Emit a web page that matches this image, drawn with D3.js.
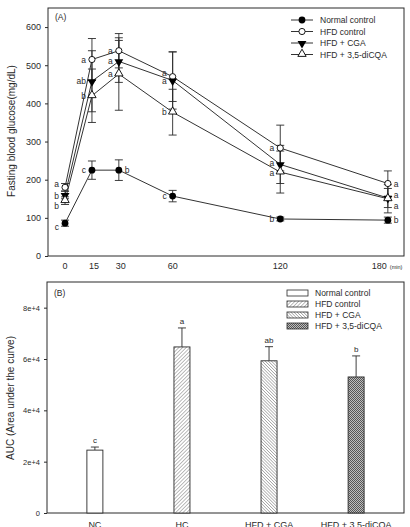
<!DOCTYPE html>
<html>
<head>
<meta charset="utf-8">
<script src="https://cdn.jsdelivr.net/npm/d3@7"></script>
<style>
  body { margin: 0; background: #fff; }
  svg { display: block; font-family: "Liberation Sans", Arial, sans-serif; }
</style>
</head>
<body>
<svg id="chart" width="410" height="527"></svg>
<script>
// ---- data: panel A (OGTT) ----
var times = [0, 15, 30, 60, 120, 180];
var seriesNames = ["Normal control", "HFD control", "HFD + CGA", "HFD + 3,5-diCQA"];
var ncGlucose   = [86, 225, 225, 157, 97, 94];
var ncErr       = [8, 24, 27, 15, 5, 8];
var hfdGlucose  = [180, 515, 538, 470, 283, 190];
var hfdErr      = [10, 55, 45, 65, 60, 33];
var cgaGlucose  = [160, 458, 510, 460, 240, 152];
var cgaErr      = [10, 80, 55, 75, 50, 25];
var dicqaGlucose = [145, 420, 477, 377, 220, 150];
var dicqaErr    = [10, 70, 95, 60, 55, 37];
var ncLetters    = ["c", "c", "b", "c", "b", "b"];
var hfdLetters   = ["a", "a", "a", "a", "a", "a"];
var cgaLetters   = ["b", "ab", "a", "a", "a", "a"];
var dicqaLetters = ["b", "b", "a", "b", "a", "a"];
var yTicksA = [0, 100, 200, 300, 400, 500, 600];

// ---- data: panel B (AUC) ----
var groups = ["NC", "HC", "HFD + CGA", "HFD + 3,5-diCQA"];
var aucValues = [24500, 64700, 59300, 53000];
var aucErr = [1200, 7400, 5500, 8200];
var aucLetters = ["c", "a", "ab", "b"];
var yTicksB = [0, 20000, 40000, 60000, 80000];
var yTickLabelsB = ["0", "2e+4", "4e+4", "6e+4", "8e+4"];

var svg = d3.select("#chart");
var ink = "#2a2a2a";

// patterns for the bars
var defs = svg.append("defs");
function hatch(id, angle, gap, sw, bg) {
  var p = defs.append("pattern").attr("id", id)
    .attr("patternUnits", "userSpaceOnUse").attr("width", gap).attr("height", gap)
    .attr("patternTransform", "rotate(" + angle + ")");
  p.append("rect").attr("width", gap).attr("height", gap).attr("fill", bg);
  p.append("line").attr("x1", 0).attr("y1", 0).attr("x2", 0).attr("y2", gap)
    .attr("stroke", "#555").attr("stroke-width", sw);
  return p;
}
hatch("hatchHFD", 45, 2.6, 0.8, "#fff");
hatch("hatchCGA", -45, 2.2, 0.8, "#fff");
var cross = defs.append("pattern").attr("id", "hatchDI")
  .attr("patternUnits", "userSpaceOnUse").attr("width", 2).attr("height", 2);
cross.append("rect").attr("width", 2).attr("height", 2).attr("fill", "#bdbdbd");
cross.append("rect").attr("width", 1).attr("height", 1).attr("fill", "#555");
cross.append("rect").attr("x", 1).attr("y", 1).attr("width", 1).attr("height", 1).attr("fill", "#555");
var fills = ["#fff", "url(#hatchHFD)", "url(#hatchCGA)", "url(#hatchDI)"];

// ================= Panel A =================
var a = { left: 48, right: 404, top: 8, bottom: 256 };
var xA = d3.scaleLinear().domain([-9.5, 189]).range([a.left, a.right]);
var yA = d3.scaleLinear().domain([0, 650]).range([a.bottom, a.top]);

svg.append("rect").attr("x", a.left).attr("y", a.top)
  .attr("width", a.right - a.left).attr("height", a.bottom - a.top)
  .attr("fill", "none").attr("stroke", ink).attr("stroke-width", 1);

var gyA = svg.append("g").attr("transform", "translate(" + a.left + ",0)")
  .call(d3.axisLeft(yA).tickValues(yTicksA).tickSize(3).tickPadding(4));
gyA.select(".domain").remove();
gyA.selectAll("line").attr("stroke", ink);
gyA.selectAll("text").attr("font-size", 9).attr("fill", ink);

// time labels (180 sits left of its tick so "(min)" fits)
svg.append("g").selectAll("text").data(times).enter().append("text")
  .attr("x", function(d) { return d === 180 ? xA(d) - 1 : xA(d) + (d === 15 || d === 30 ? 2 : 0); })
  .attr("y", 269)
  .attr("text-anchor", function(d) { return d === 180 ? "end" : "middle"; })
  .attr("font-size", 9).attr("fill", ink)
  .text(function(d) { return d; });
svg.append("text").attr("x", xA(180) + 2).attr("y", 269).attr("font-size", 5.5)
  .attr("fill", ink).text("(min)");

svg.append("text").attr("x", 55).attr("y", 20).attr("font-size", 8.5)
  .attr("fill", ink).text("(A)");

svg.append("text").attr("transform", "translate(15,131) rotate(-90)")
  .attr("text-anchor", "middle").attr("font-size", 10).attr("fill", ink)
  .text("Fasting blood glucose(mg/dL)");

var series = [
  { vals: ncGlucose, err: ncErr, letters: ncLetters, side: [-1, -1, 1, -1, -1, 1], dy: [4, 0, 0, 0, 0, 0] },
  { vals: hfdGlucose, err: hfdErr, letters: hfdLetters, side: [-1, -1, -1, -1, -1, 1], dy: [-3, 0, 0, -4, 0, 0] },
  { vals: cgaGlucose, err: cgaErr, letters: cgaLetters, side: [-1, -1, -1, -1, -1, 1], dy: [1.5, 0, 0, 1, -1, -3] },
  { vals: dicqaGlucose, err: dicqaErr, letters: dicqaLetters, side: [-1, -1, -1, -1, -1, 1], dy: [5, 0, 0, 0, 1, 7] }
];

var line = d3.line().x(function(d, i) { return xA(times[i]); }).y(function(d) { return yA(d); });

// error bars
series.forEach(function(s) {
  var g = svg.append("g").attr("stroke", ink).attr("stroke-width", 0.9);
  s.vals.forEach(function(v, i) {
    var x = xA(times[i]);
    g.append("line").attr("x1", x).attr("x2", x).attr("y1", yA(v - s.err[i])).attr("y2", yA(v + s.err[i]));
    g.append("line").attr("x1", x - 4).attr("x2", x + 4).attr("y1", yA(v + s.err[i])).attr("y2", yA(v + s.err[i]));
    g.append("line").attr("x1", x - 4).attr("x2", x + 4).attr("y1", yA(v - s.err[i])).attr("y2", yA(v - s.err[i]));
  });
});

// lines
series.forEach(function(s) {
  svg.append("path").datum(s.vals).attr("d", line)
    .attr("fill", "none").attr("stroke", "#333").attr("stroke-width", 1);
});

// markers
function drawMarker(g, k, x, y) {
  if (k === 0) {
    g.append("circle").attr("cx", x).attr("cy", y).attr("r", 3.4).attr("fill", "#000");
  } else if (k === 1) {
    g.append("circle").attr("cx", x).attr("cy", y).attr("r", 3.1)
      .attr("fill", "#fff").attr("stroke", "#000").attr("stroke-width", 0.9);
  } else if (k === 2) {
    g.append("path").attr("d", d3.symbol().type(d3.symbolTriangle).size(34)())
      .attr("transform", "translate(" + x + "," + (y + 0.5) + ") rotate(180)").attr("fill", "#000");
  } else {
    g.append("path").attr("d", d3.symbol().type(d3.symbolTriangle).size(30)())
      .attr("transform", "translate(" + x + "," + (y - 0.5) + ")")
      .attr("fill", "#fff").attr("stroke", "#000").attr("stroke-width", 0.9);
  }
}
series.forEach(function(s, k) {
  var g = svg.append("g");
  s.vals.forEach(function(v, i) { drawMarker(g, k, xA(times[i]), yA(v)); });
});

// significance letters
series.forEach(function(s) {
  s.vals.forEach(function(v, i) {
    var right = s.side[i] > 0;
    svg.append("text")
      .attr("x", xA(times[i]) + (right ? 6 : -6))
      .attr("y", yA(v) + 3 + s.dy[i])
      .attr("text-anchor", right ? "start" : "end")
      .attr("font-size", 8.5).attr("fill", ink)
      .text(s.letters[i]);
  });
});

// legend A
var legA = svg.append("g");
seriesNames.forEach(function(n, k) {
  var y = 20 + k * 11.5;
  legA.append("line").attr("x1", 291).attr("x2", 313).attr("y1", y).attr("y2", y)
    .attr("stroke", "#333").attr("stroke-width", 1);
  drawMarker(legA, k, 302, y);
  legA.append("text").attr("x", 320).attr("y", y + 3.2).attr("font-size", 8.5)
    .attr("fill", ink).text(n);
});

// ================= Panel B =================
var b = { left: 47, right: 404, top: 282, bottom: 513 };
var xB = d3.scalePoint().domain(groups).range([b.left, b.right]).padding(0.55);
var yB = d3.scaleLinear().domain([0, 90000]).range([b.bottom, b.top]);
var barW = 16;

svg.append("rect").attr("x", b.left).attr("y", b.top)
  .attr("width", b.right - b.left).attr("height", b.bottom - b.top)
  .attr("fill", "none").attr("stroke", ink).attr("stroke-width", 1);

var gyB = svg.append("g").attr("transform", "translate(" + b.left + ",0)")
  .call(d3.axisLeft(yB).tickValues(yTicksB).tickSize(3).tickPadding(4)
    .tickFormat(function(d, i) { return yTickLabelsB[i]; }));
gyB.select(".domain").remove();
gyB.selectAll("line").attr("stroke", ink);
gyB.selectAll("text").attr("font-size", 7.5).attr("fill", ink);

svg.append("text").attr("x", 54).attr("y", 296).attr("font-size", 8.5)
  .attr("fill", ink).text("(B)");

svg.append("text").attr("transform", "translate(14,398) rotate(-90)")
  .attr("text-anchor", "middle").attr("font-size", 10).attr("fill", ink)
  .text("AUC (Area under the curve)");

// error bars (upper only)
groups.forEach(function(gname, i) {
  var x = xB(gname);
  var top = yB(aucValues[i] + aucErr[i]);
  svg.append("line").attr("x1", x).attr("x2", x).attr("y1", yB(aucValues[i])).attr("y2", top)
    .attr("stroke", ink).attr("stroke-width", 0.9);
  svg.append("line").attr("x1", x - 4).attr("x2", x + 4).attr("y1", top).attr("y2", top)
    .attr("stroke", ink).attr("stroke-width", 0.9);
  svg.append("text").attr("x", x).attr("y", top - 4).attr("text-anchor", "middle")
    .attr("font-size", 8).attr("fill", ink).text(aucLetters[i]);
});

svg.append("g").selectAll("rect").data(aucValues).enter().append("rect")
  .attr("x", function(d, i) { return xB(groups[i]) - barW / 2; })
  .attr("y", function(d) { return yB(d); })
  .attr("width", barW)
  .attr("height", function(d) { return b.bottom - yB(d); })
  .attr("fill", function(d, i) { return fills[i]; })
  .attr("stroke", ink).attr("stroke-width", 0.9);

// category labels, cut by the bottom edge as in the original
svg.append("g").selectAll("text").data(groups).enter().append("text")
  .attr("x", function(d) { return xB(d); }).attr("y", 528)
  .attr("text-anchor", "middle").attr("font-size", 9).attr("fill", ink)
  .text(function(d) { return d; });

// legend B
var legB = svg.append("g");
seriesNames.forEach(function(n, k) {
  var y = 293 + k * 11;
  legB.append("rect").attr("x", 287).attr("y", y - 3).attr("width", 21).attr("height", 6)
    .attr("fill", fills[k]).attr("stroke", ink).attr("stroke-width", 0.8);
  legB.append("text").attr("x", 315).attr("y", y + 3).attr("font-size", 8.5)
    .attr("fill", ink).text(n);
});
</script>
</body>
</html>
